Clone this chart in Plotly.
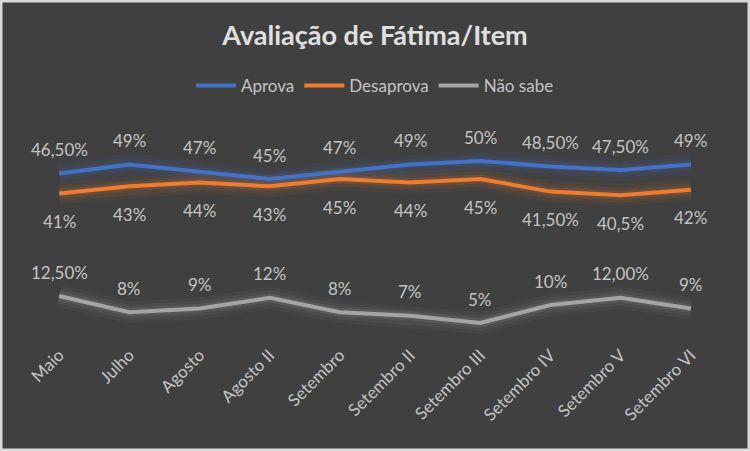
import plotly.graph_objects as go

categories = ["Maio", "Julho", "Agosto", "Agosto II", "Setembro", "Setembro II",
              "Setembro III", "Setembro IV", "Setembro V", "Setembro VI"]
aprova = [46.5, 49, 47, 45, 47, 49, 50, 48.5, 47.5, 49]
desaprova = [41, 43, 44, 43, 45, 44, 45, 41.5, 40.5, 42]
nao_sabe = [12.5, 8, 9, 12, 8, 7, 5, 10, 12, 9]

aprova_labels = ["46,50%", "49%", "47%", "45%", "47%", "49%", "50%", "48,50%", "47,50%", "49%"]
desaprova_labels = ["41%", "43%", "44%", "43%", "45%", "44%", "45%", "41,50%", "40,5%", "42%"]
nao_sabe_labels = ["12,50%", "8%", "9%", "12%", "8%", "7%", "5%", "10%", "12,00%", "9%"]

series = [
    ("Aprova", aprova, aprova_labels, "#4472c4", 24),
    ("Desaprova", desaprova, desaprova_labels, "#ed7d31", -28),
    ("Não sabe", nao_sabe, nao_sabe_labels, "#a5a5a5", 24),
]

FONT = "Lato"
W, H = 750, 451
ML, MR, MT, MB = 24, 24, 125, 110

fig = go.Figure()

# glow layers
for name, vals, labels, color, shift in series:
    for w, op in [(22, 0.05), (15, 0.07), (9, 0.12)]:
        fig.add_trace(go.Scatter(x=categories, y=vals, mode="lines",
                                 line=dict(color=color, width=w),
                                 opacity=op, showlegend=False, hoverinfo="skip"))

for name, vals, labels, color, shift in series:
    fig.add_trace(go.Scatter(x=categories, y=vals, mode="lines", name=name,
                             line=dict(color=color, width=4)))

annotations = []
for name, vals, labels, color, shift in series:
    for c, v, t in zip(categories, vals, labels):
        annotations.append(dict(x=c, y=v, text=t, showarrow=False, yshift=shift,
                                font=dict(family=FONT, size=17, color="#c4c4c4")))

pw = W - ML - MR
ph = H - MT - MB
shapes = [dict(type="rect", xref="paper", yref="paper",
               x0=-ML / pw, x1=1 + MR / pw, y0=-MB / ph, y1=1 + MT / ph,
               line=dict(color="#d9d9d9", width=5), layer="above")]

fig.update_layout(
    width=W, height=H,
    margin=dict(l=ML, r=MR, t=MT, b=MB),
    paper_bgcolor="#404040", plot_bgcolor="#404040",
    title=dict(text="<b>Avaliação de Fátima/Item</b>", x=0.5, xanchor="center",
               y=1 - 36 / H, yanchor="middle",
               font=dict(family=FONT, size=27, color="#e0e0e0")),
    legend=dict(orientation="h", x=0.5, xanchor="center", y=1 + (MT - 86) / ph,
                yanchor="middle", font=dict(family=FONT, size=17, color="#c4c4c4"),
                bgcolor="rgba(0,0,0,0)", itemwidth=40),
    xaxis=dict(showgrid=False, zeroline=False, showline=False, tickangle=-45,
               tickfont=dict(family=FONT, size=17, color="#c4c4c4"),
               range=[-0.5, 9.5], ticks=""),
    yaxis=dict(visible=False, range=[0, 60]),
    annotations=annotations,
    shapes=shapes,
    showlegend=True,
)

fig.write_html("out.html", config={"displayModeBar": False},
               post_script="document.body.style.margin='0';document.body.style.background='#404040';")
